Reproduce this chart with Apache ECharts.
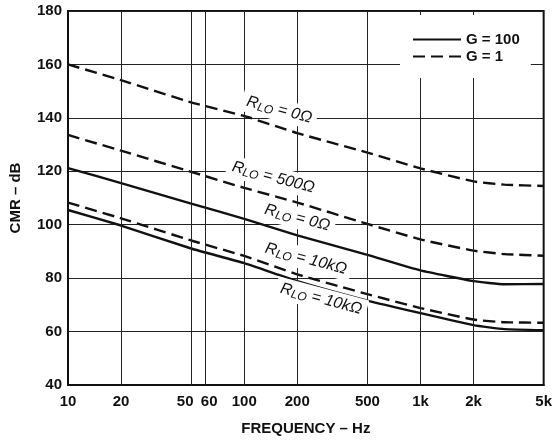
<!DOCTYPE html>
<html>
<head>
<meta charset="utf-8">
<script src="https://cdn.jsdelivr.net/npm/echarts@6/dist/echarts.min.js"></script>
<style>
  html, body { margin: 0; padding: 0; background: #fff; }
  #chart { width: 555px; height: 441px; }
</style>
</head>
<body>
<div id="chart"></div>
<script>
const freq = [10, 20, 50, 100, 200, 500, 1000, 2000, 3000, 5000]

// CMR in dB
const g1_r0 = [160, 154.1, 145.8, 140.7, 134.3, 127, 121.1, 116.2, 115, 114.5]
const g1_r500 = [133.6, 127.7, 119.8, 113.8, 108.3, 100.3, 94.5, 90.3, 89, 88.4]
const g100_r0 = [121.2, 115.6, 107.9, 102.2, 96, 88.7, 82.9, 78.9, 77.7, 77.8]
const g1_r10k = [108.3, 102.4, 94.1, 88.3, 81.4, 74, 68.8, 64.5, 63.5, 63.3]
const g100_r10k = [105.5, 99.7, 91.1, 85.6, 78.9, 71.6, 66.9, 62.4, 60.9, 60.5]

// axis ticks / vertical grid
const xTicks = [10, 20, 50, 60, 100, 200, 500, 1000, 2000, 5000]
const xGrid = [20, 50, 60, 100, 200, 500, 1000, 2000]

// curve labels: [freq, dB, resistance text]
const curveLabels = [
  [158, 143, '0Ω'],
  [146, 117.7, '500Ω'],
  [200, 102.6, '0Ω'],
  [224, 87.2, '10kΩ'],
  [273, 72.2, '10kΩ']
]

const font = '"Liberation Sans", Arial, Helvetica, sans-serif'

const pairs = (ys) => freq.map((f, i) => [f, ys[i]])

const curve = (name, ys, dashed) => ({
  name: name,
  type: 'line',
  data: pairs(ys),
  symbol: 'none',
  smooth: 0.15,
  z: 3,
  silent: true,
  itemStyle: { color: '#111' },
  lineStyle: {
    color: '#111',
    width: 2.4,
    type: dashed ? [12, 6] : 'solid'
  }
})

const tickText = { fontSize: 15, fontWeight: 'bold', color: '#111', fontFamily: font }

const chart = echarts.init(document.getElementById('chart'))

const option = {
  animation: false,
  backgroundColor: '#fff',
  textStyle: { fontFamily: font },
  grid: {
    left: 67, right: 9, top: 11, bottom: 48,
    show: true,
    borderColor: '#111',
    borderWidth: 2
  },
  legend: {
    data: ['G = 100', 'G = 1'],
    orient: 'vertical',
    left: 400,
    top: 15,
    padding: [17, 11, 14, 12],
    backgroundColor: '#fff',
    itemWidth: 48,
    itemHeight: 14,
    itemGap: 2,
    z: 10,
    itemStyle: { opacity: 0 },
    textStyle: { fontSize: 15, fontWeight: 'bold', color: '#111', fontFamily: font }
  },
  xAxis: {
    type: 'log',
    logBase: 10,
    min: 10,
    max: 5000,
    name: 'FREQUENCY – Hz',
    nameLocation: 'middle',
    nameGap: 36,
    nameTextStyle: { fontSize: 15, fontWeight: 'bold', color: '#111' },
    axisLine: { show: true, lineStyle: { color: '#111', width: 2 } },
    axisTick: { show: false },
    splitLine: { show: false },
    minorSplitLine: { show: false },
    axisLabel: {
      customValues: xTicks,
      margin: 9,
      fontSize: 15,
      fontWeight: 'bold',
      color: '#111',
      hideOverlap: false,
      formatter: v => {
        if (v === 50) return '{l|50}'
        if (v === 60) return '{r|60}'
        return v >= 1000 ? (v / 1000) + 'k' : String(v)
      },
      rich: {
        l: Object.assign({ padding: [0, 12, 0, 0] }, tickText),
        r: Object.assign({ padding: [0, 0, 0, 8] }, tickText)
      }
    }
  },
  yAxis: {
    type: 'value',
    min: 40,
    max: 180,
    interval: 20,
    name: 'CMR – dB',
    nameLocation: 'middle',
    nameGap: 45,
    nameTextStyle: { fontSize: 15, fontWeight: 'bold', color: '#111' },
    axisLine: { show: true, lineStyle: { color: '#111', width: 2 } },
    axisTick: { show: false },
    splitLine: { show: true, lineStyle: { color: '#222', width: 1 } },
    axisLabel: { margin: 6, fontSize: 15, fontWeight: 'bold', color: '#111' }
  },
  series: [
    {
      name: 'grid',
      type: 'line',
      data: [],
      z: 1,
      silent: true,
      markLine: {
        silent: true,
        symbol: 'none',
        label: { show: false },
        lineStyle: { color: '#222', width: 1, type: 'solid' },
        data: xGrid.map(f => ({ xAxis: f }))
      }
    },
    {
      name: 'labels',
      type: 'line',
      data: [],
      z: 2,
      silent: true,
      markPoint: {
        silent: true,
        symbol: 'circle',
        symbolSize: 1,
        itemStyle: { color: 'rgba(0,0,0,0)' },
        label: {
          show: true,
          position: 'inside',
          rotate: -15,
          backgroundColor: '#fff',
          padding: [2, 5],
          formatter: p => '{r|R}{s|LO}{r| = ' + p.data.value + '}',
          rich: {
            r: { fontSize: 16, fontStyle: 'italic', color: '#111', fontFamily: font, lineHeight: 18 },
            s: { fontSize: 12, fontStyle: 'italic', color: '#111', fontFamily: font, lineHeight: 18, verticalAlign: 'bottom', padding: [8, 0, 0, 0] }
          }
        },
        data: curveLabels.map(d => ({ coord: [d[0], d[1]], value: d[2] }))
      }
    },
    curve('G = 1', g1_r0, true),
    curve('G = 1', g1_r500, true),
    curve('G = 100', g100_r0, false),
    curve('G = 1', g1_r10k, true),
    curve('G = 100', g100_r10k, false)
  ]
}

chart.setOption(option)
</script>
</body>
</html>
